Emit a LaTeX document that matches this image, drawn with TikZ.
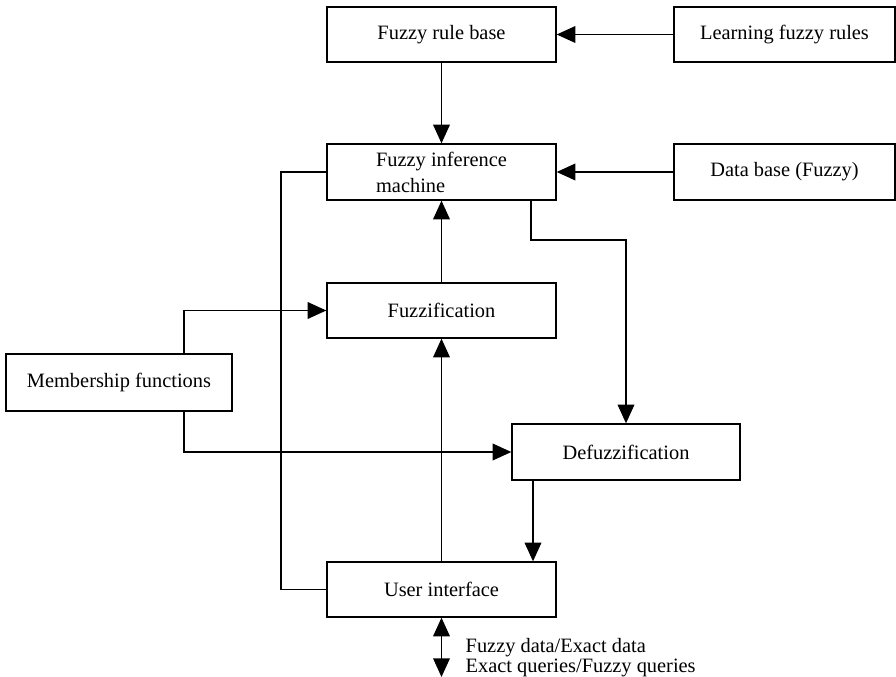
\documentclass[tikz,border=0pt]{standalone}
\usepackage{fontspec}
\setmainfont{Liberation Serif}
\usetikzlibrary{arrows.meta}

\begin{document}
\begin{tikzpicture}[x=0.75pt, y=-0.75pt, line width=1pt,
                    >={Triangle[length=14pt,width=12.5pt]},
                    block/.style={draw, minimum width=171.75pt, minimum height=41.25pt,
                                  inner sep=2pt, font=\fontsize{15.3}{19.5}\selectfont},
                    side/.style={block, minimum width=165.75pt},
                    note/.style={anchor=west, inner sep=0pt, font=\fontsize{15.3}{18.5}\selectfont}]
  \useasboundingbox (0,0) rectangle (896,677);

  \node[block] (rulebase) at (441.5,34.5) {Fuzzy rule base};
  \node[side] (learning) at (784.5,34.5) {Learning fuzzy rules};
  \node[block, minimum height=42pt, align=left] (inference) at (441.5,172) {Fuzzy inference\\machine};
  \node[side, minimum height=42pt] (database) at (784.5,172) {Data base (Fuzzy)};
  \node[block] (fuzzif) at (441.5,310.5) {Fuzzification};
  \node[block, minimum width=169.5pt, minimum height=42.75pt] (member) at (119,382.5) {Membership functions};
  \node[block, minimum width=171pt, minimum height=42pt] (defuzz) at (626,452) {Defuzzification};
  \node[block] (ui) at (441.5,589.5) {User interface};

  \coordinate (fbk) at (281,0);
  \coordinate (mf) at (184,0);
  \coordinate (split) at (531,240);
  \coordinate (dd) at (533,0);
  \coordinate (io) at (441.5,677);

  \draw[->] (learning) -- (rulebase);
  \draw[->] (rulebase) -- (inference);
  \draw[->] (database) -- (inference);
  \draw[->] (fuzzif) -- (inference);
  \draw[->] (ui) -- (fuzzif);
  \draw (inference.west) -- (inference.west -| fbk) -- (fbk |- ui.west) -- (ui.west);
  \draw[->] (split |- inference.south) -- (split) -- (split -| defuzz.north) -- (defuzz.north);
  \draw[->] (mf |- member.north) -- (mf |- fuzzif.west) -- (fuzzif.west);
  \draw[->] (mf |- member.south) -- (mf |- defuzz.west) -- (defuzz.west);
  \draw[->] (dd |- defuzz.south) -- (dd |- ui.north);
  \draw[<->] (ui.south) -- (io);

  \node[note] (datain) at (465,648) {Fuzzy data/Exact data};
  \node[note] (queries) at (465,668) {Exact queries/Fuzzy queries};
\end{tikzpicture}
\end{document}
